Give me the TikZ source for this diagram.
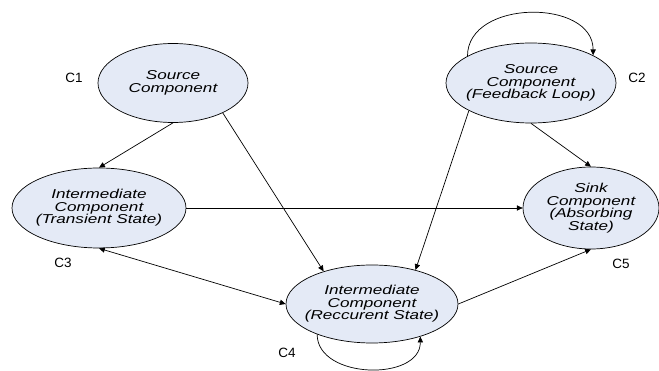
\documentclass[tikz,border=0pt]{standalone}
\usepackage{fontspec}
\setmainfont{Liberation Sans}
\newfontfamily\statefont[FakeStretch=1.33]{Liberation Sans}
\usetikzlibrary{arrows.meta, shapes.geometric}
\definecolor{statefill}{HTML}{E4EAF6}

\begin{document}
\begin{tikzpicture}[
  x=0.03cm, y=-0.03cm,
  comp/.style={
    ellipse, draw=black, line width=0.6pt, fill=statefill,
    inner xsep=-12pt, inner ysep=0pt, align=center,
    font=\statefont\itshape\fontsize{11}{10.8}\selectfont
  },
  tag/.style={font=\fontsize{11.5}{12}\selectfont},
  link/.style={line width=0.6pt, -{Triangle[length=5pt,width=4.5pt]}},
  twoway/.style={line width=0.6pt, {Triangle[length=5pt,width=4.5pt]}-{Triangle[length=5pt,width=4.5pt]}}
]
  \useasboundingbox (0,0) rectangle (659,371);

  \node[comp, minimum width=4.5cm, minimum height=2.37cm] (c1) at (173,83) {Source\\Component};
  \node[comp, minimum width=5.1cm, minimum height=2.4cm] (c2) at (531,83) {Source\\Component\\(Feedback Loop)};
  \node[comp, minimum width=5.22cm, minimum height=2.4cm] (c3) at (99,208) {Intermediate\\Component\\(Transient State)};
  \node[comp, minimum width=5.16cm, minimum height=2.34cm] (c4) at (372,304) {Intermediate\\Component\\(Reccurent State)};
  \node[comp, minimum width=4.08cm, minimum height=2.46cm] (c5) at (591,208) {Sink\\Component\\(Absorbing\\State)};

  \node[tag] (l1) at (74,78) {C1};
  \node[tag] (l2) at (637,78) {C2};
  \node[tag] (l3) at (63,263) {C3};
  \node[tag] (l4) at (287,353) {C4};
  \node[tag] (l5) at (621,264) {C5};

  % transitions
  \draw[link] (c1.south) -- (c3.north);
  \draw[link] (c1.-31) -- (c4.146);
  \draw[link] (c2.204) -- (c4.38);
  \draw[link] (c2.south) -- (c5.north);
  \draw[link] (c3.east) -- (c5.west);
  \draw[twoway] (c3.south) -- (c4.west);
  \draw[link] (c4.east) -- (c5.south);

  % self loops
  \draw[link] (c2.157) .. controls +(0,-57) and +(0,-57) .. (c2.24);
  \draw[link] (c4.209) .. controls +(0,45) and +(0,45) .. (c4.-34);
\end{tikzpicture}
\end{document}
